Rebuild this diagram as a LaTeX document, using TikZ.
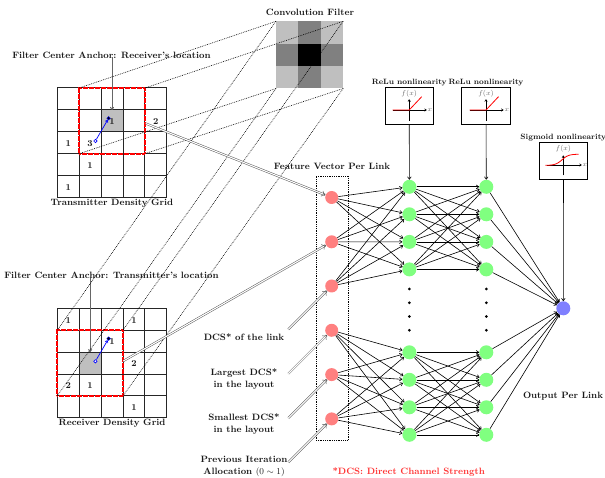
\documentclass[tikz,border=0pt]{standalone}
\usetikzlibrary{arrows.meta,calc}
\begin{document}
\begin{tikzpicture}[x=1pt,y=-1pt,
  lbl/.style={font=\fontsize{9.2}{12}\selectfont\bfseries, text=black!90, inner sep=0pt, align=center},
  slbl/.style={font=\fontsize{7.7}{9}\selectfont\bfseries, text=black!90, inner sep=0pt},
  num/.style={font=\fontsize{9}{10}\selectfont\bfseries, text=black!90, inner sep=0pt},
  axlbl/.style={font=\fontsize{7}{8}\selectfont, text=black!60, inner sep=0pt},
  gridline/.style={black!85, line width=1pt},
  redbox/.style={draw=red, line width=1.8pt, dash pattern=on 0.6pt off 0.6pt, minimum width=65.7pt, minimum height=65.7pt, inner sep=0pt, outer sep=0pt},
  proj/.style={dash pattern=on 0.8pt off 1pt, line width=0.6pt},
  feed/.style={draw=black!65, double=white, double distance=1.1pt, line width=0.5pt, -{To[length=4pt,width=6pt]}},
  anc/.style={black!60, line width=0.9pt, -{To[length=3pt,width=4pt]}},
  edge/.style={line width=0.6pt, -{To[length=3pt,width=4pt]}},
  nlbox/.style={draw, line width=0.9pt, minimum width=48.3pt, minimum height=37.3pt, inner sep=0pt},
  ax/.style={line width=0.6pt, -{To[length=2.5pt,width=3pt]}},
  inneur/.style={circle, fill=red!50, minimum size=13pt, inner sep=0pt},
  hidneur/.style={circle, fill=green!50, minimum size=14pt, inner sep=0pt},
  outneur/.style={circle, fill=blue!50, minimum size=14pt, inner sep=0pt},
  vdot/.style={circle, fill=black, minimum size=3pt, inner sep=0pt},
  opencirc/.style={circle, draw=blue, fill=white, line width=0.6pt, minimum size=3.4pt, inner sep=0pt},
  fullcirc/.style={circle, draw=blue, fill=black, line width=0.4pt, minimum size=3.6pt, inner sep=0pt},
  vec/.style={blue, line width=0.7pt, -{To[length=2.5pt,width=3.5pt]}}
]
\useasboundingbox (0,0) rectangle (605,478);

% ---------------- Convolution filter ----------------
\node[lbl] (convl) at (310,12) {Convolution Filter};
\foreach \i/\j/\c in {0/0/25,1/0/50,2/0/25,0/1/50,1/1/100,2/1/50,0/2/25,1/2/50,2/2/25}
  \fill[black!\c] ({276+\i*22.4},{21.3+\j*22.4}) rectangle ({276+(\i+1)*22.4},{21.3+(\j+1)*22.4});
\node[minimum size=67.2pt, inner sep=0pt, outer sep=0pt] (filt) at (309.6,54.9) {};

% ---------------- Transmitter grid ----------------
\fill[black!25] (101.1,109.9) rectangle (123.0,131.8);
\foreach \i in {0,...,5} {
  \draw[gridline] ({57.3+\i*21.9},88) -- ({57.3+\i*21.9},197.5);
  \draw[gridline] (57.3,{88+\i*21.9}) -- (166.8,{88+\i*21.9});
}
\foreach \c/\r/\v in {4/1/2,0/2/1,1/2/3,1/3/1,0/4/1,2/1/1}
  \node[num] (t\c\r) at ({57.3+(\c+0.5)*21.9},{88+(\r+0.5)*21.9+0.8}) {\v};
\node[redbox] (tbox) at (112.05,120.85) {};
\node[opencirc] (topen) at (95.4,141) {};
\node[fullcirc] (tfull) at (108.6,118.3) {};
\draw[vec] (topen) -- (tfull);
\node[lbl] (tanc) at (111.5,55) {Filter Center Anchor: Receiver's location};
\coordinate (tanct) at (112.05,109.9);
\draw[anc] (tanc.south -| tanct) ++(0,-1) -- (tanct);
\node[lbl] (tgl) at (112,203.5) {Transmitter Density Grid};

% ---------------- Receiver grid ----------------
\fill[black!25] (79.2,352.1) rectangle (101.1,374.0);
\foreach \i in {0,...,5} {
  \draw[gridline] ({57.3+\i*21.9},308.3) -- ({57.3+\i*21.9},417.8);
  \draw[gridline] (57.3,{308.3+\i*21.9}) -- (166.8,{308.3+\i*21.9});
}
\foreach \c/\r/\v in {0/0/1,3/0/1,2/1/1,3/2/2,0/3/2,1/3/1,3/4/1}
  \node[num] (r\c\r) at ({57.3+(\c+0.5)*21.9},{308.3+(\r+0.5)*21.9+0.8}) {\v};
\node[redbox] (rbox) at (90.15,363.05) {};
\node[opencirc] (ropen) at (95.4,361.3) {};
\node[fullcirc] (rfull) at (108.6,338.6) {};
\draw[vec] (ropen) -- (rfull);
\node[lbl] (ranc) at (111.5,275.7) {Filter Center Anchor: Transmitter's location};
\coordinate (ranct) at (90.15,352.1);
\draw[anc] (ranc.south -| ranct) ++(0,-1) -- (ranct);
\node[lbl] (rgl) at (112,423.5) {Receiver Density Grid};

% ---------------- projection lines ----------------
\foreach \a in {north west,north east,south west,south east} {
  \draw[proj] (filt.\a) -- (tbox.\a);
  \draw[proj] (filt.\a) -- (rbox.\a);
}

% ---------------- Feature vector ----------------
\node[draw, dash pattern=on 0.8pt off 1pt, line width=0.6pt, minimum width=32.3pt, minimum height=263.7pt, inner sep=0pt] (fbox) at (332.15,308.15) {};
\node[lbl] (fvl) at (332,166.7) {Feature Vector Per Link};
\foreach \k/\y in {1/197.5,2/241.8,3/286,4/330.3,5/374.6,6/418.9}
  \node[inneur] (f\k) at (331.7,\y) {};

% hidden layers
\foreach \k/\y in {1/186.8,2/214.3,3/241.9,4/269.4,5/352.3,6/379.8,7/407.3,8/434.8} {
  \node[hidneur] (a\k) at (409.4,\y) {};
  \node[hidneur] (b\k) at (486.3,\y) {};
}
\foreach \k/\y in {1/289,2/302.8,3/316.5,4/330.3} {
  \node[vdot] (da\k) at (409.4,\y) {};
  \node[vdot] (db\k) at (486.3,\y) {};
}
\node[outneur] (o) at (563.3,308.3) {};
\node[lbl] (opl) at (563,396) {Output Per Link};

\foreach \i in {1,2,3} \foreach \j in {1,...,4} \draw[edge] (f\i) -- (a\j);
\foreach \i in {4,5,6} \foreach \j in {5,...,8} \draw[edge] (f\i) -- (a\j);
\foreach \i in {1,...,4} \foreach \j in {1,...,4} \draw[edge] (a\i) -- (b\j);
\foreach \i in {5,...,8} \foreach \j in {5,...,8} \draw[edge] (a\i) -- (b\j);
\foreach \j in {1,...,8} \draw[edge] (b\j) -- (o);

% ---------------- Nonlinearity boxes ----------------
\foreach \n/\cx in {1/409.2,2/486.0} {
  \node[slbl] (relul\n) at (\cx,82.7) {ReLu nonlinearity};
  \node[nlbox] (relu\n) at (\cx,105.8) {};
  \draw[ax] ({\cx-16.5},110) -- ({\cx+17.5},110);
  \draw[ax] (\cx,121) -- (\cx,99.3);
  \draw[red, line width=0.8pt] ({\cx-16.5},110) -- (\cx,110) -- ({\cx+12.5},96.7);
  \node[axlbl] (reluf\n) at (\cx,93.3) {$f(x)$};
  \node[axlbl, anchor=west] (relux\n) at ({\cx+18.3},110) {$x$};
}
\draw[edge] (relu1) -- (a1);
\draw[edge] (relu2) -- (b1);

\node[slbl] (sigl) at (563.3,137.7) {Sigmoid nonlinearity};
\node[nlbox] (sig) at (563.5,160.8) {};
\draw[ax] (546.7,165) -- (581.7,165);
\draw[ax] (563.3,175.5) -- (563.3,155.5);
\draw[red, line width=0.8pt] plot[domain=-16.6:16.6, samples=40] ({562+\x},{159.8-5.6*tanh(\x/6.5)});
\node[axlbl] (sigf) at (563.3,148.5) {$f(x)$};
\node[axlbl, anchor=west] (sigx) at (582.5,165) {$x$};
\draw[edge] (sig) -- (o);

% ---------------- feature arrows ----------------
\coordinate (ts) at (145.7,123.5);
\coordinate (rs) at (123.3,361);
\draw[feed] (ts) -- (f1);
\draw[feed] (rs) -- (f2);
\foreach \k in {3,4,5,6} {
  \coordinate (s\k) at ($(f\k)+(-43.4,43.4)$);
}
\node[lbl] (l3) at (244,336.7) {DCS* of the link};
\node[lbl] (l4) at (244,379) {Largest DCS*\\in the layout};
\node[lbl] (l5) at (244,423.8) {Smallest DCS*\\in the layout};
\node[lbl] (l6) at (244,466.7) {Previous Iteration\\Allocation $(0\sim 1)$};
\foreach \k in {3,4,5,6} \draw[feed] (s\k) -- (f\k);

\node[lbl, text=red!80] (dcs) at (408.7,471.7) {*DCS: Direct Channel Strength};
\end{tikzpicture}
\end{document}
